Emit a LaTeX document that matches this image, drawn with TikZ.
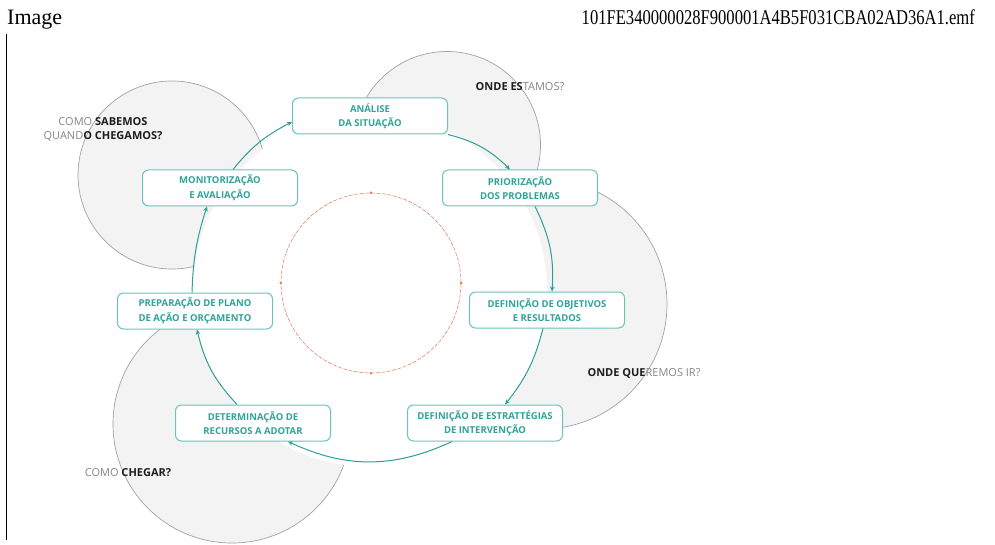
\documentclass[tikz,border=0pt]{standalone}
\usepackage{fontspec}
\setmainfont{Liberation Serif}
\newfontfamily\diagfont{Open Sans}
\usepackage{tikz}
\usetikzlibrary{arrows.meta}
\definecolor{tealtxt}{HTML}{2FA39A}
\definecolor{tealline}{HTML}{6CC3BB}
\definecolor{tealarrow}{HTML}{2E9F97}
\definecolor{ringorange}{HTML}{E07A55}
\definecolor{bubblefill}{HTML}{F3F3F3}
\definecolor{bubbleline}{HTML}{A2A2A2}
\definecolor{lighttxt}{HTML}{858585}
\definecolor{darktxt}{HTML}{1E1E1E}

\begin{document}
\begin{tikzpicture}[x=1pt,y=-1pt,
    stage/.style={draw=tealline, line width=1pt, fill=white, rounded corners=6pt,
      minimum width=155pt, minimum height=36pt, align=center, text=tealtxt,
      font=\diagfont\bfseries\fontsize{9.5}{14.5}\selectfont, inner sep=2pt},
    flow/.style={draw=tealarrow, line width=1pt, -{Stealth[length=5pt,width=4.5pt]}},
    bubble/.style={fill=bubblefill, draw=bubbleline, line width=0.7pt},
    question/.style={align=center, text=darktxt, font=\diagfont\fontsize{11}{14}\selectfont}]
    \useasboundingbox (0,0) rectangle (995,545);

    % header of the page
    \node[anchor=base west, inner sep=0pt, font=\fontsize{22}{26}\selectfont] (title) at (7,25) {Image};
    \node[anchor=base east, inner sep=0pt, xscale=0.79, font=\fontsize{21}{24}\selectfont] (file) at (975,25) {101FE340000028F900001A4B5F031CBA02AD36A1.emf};
    \draw[line width=0.8pt] (6,34) -- (6,540);

    % grey bubbles, cut by the white centre
    \draw[bubble] (172,175) circle (94);
    \draw[bubble] (447,145) circle (93.5);
    \draw[bubble] (542,304) circle (125);
    \draw[bubble] (232,424) circle (119);
    \fill[white] (370,290) circle (177);

    % inner ring
    \node[circle, draw=ringorange, dashed, dash pattern=on 4pt off 1.5pt, line width=0.5pt,
      minimum size=180pt, inner sep=0pt] (ring) at (371,283) {};
    \foreach \a in {north,south,east,west}
        \fill[ringorange] (ring.\a) circle (1.4);

    % stages of the cycle
    \node[stage] (analise) at (370,116) {ANÁLISE\\DA SITUAÇÃO};
    \node[stage] (prior) at (520,188) {PRIORIZAÇÃO\\DOS PROBLEMAS};
    \node[stage] (objet) at (547,310) {DEFINIÇÃO DE OBJETIVOS\\E RESULTADOS};
    \node[stage] (estrat) at (485,423) {DEFINIÇÃO DE ESTRATTÉGIAS\\DE INTERVENÇÃO};
    \node[stage] (recur) at (253,423) {DETERMINAÇÃO DE\\RECURSOS A ADOTAR};
    \node[stage] (plano) at (195,311) {PREPARAÇÃO DE PLANO\\DE AÇÃO E ORÇAMENTO};
    \node[stage] (monit) at (220,188) {MONITORIZAÇÃO\\E AVALIAÇÃO};

    \draw[flow] (analise.south east) to[bend left=15] ([xshift=-10pt]prior.north);
    \draw[flow] ([xshift=15pt]prior.south) to[bend left=15] ([xshift=5pt]objet.north);
    \draw[flow] ([xshift=-4pt]objet.south) to[bend left=12] ([xshift=20pt]estrat.north);
    \draw[flow] ([xshift=-33pt]estrat.south) to[bend left=25] ([xshift=35pt]recur.south);
    \draw[flow] ([xshift=-16pt]recur.north) to[bend left=15] ([xshift=2pt]plano.south);
    \draw[flow] ([xshift=-3pt]plano.north) to[bend left=8] ([xshift=-13pt]monit.south);
    \draw[flow] ([xshift=13pt]monit.north) to[bend left=12] ([yshift=-6pt]analise.west);

    % questions
    \node[question] (quando) at (103,129) {{\color{lighttxt}COMO }\textbf{SABEMOS}\\{\color{lighttxt}QUAND}\textbf{O CHEGAMOS?}};
    \node[question] (onde) at (520,87) {\textbf{ONDE ES}{\color{lighttxt}TAMOS?}};
    \node[question] (ir) at (644,373) {\textbf{ONDE QUE}{\color{lighttxt}REMOS IR?}};
    \node[question] (chegar) at (128,473) {{\color{lighttxt}COMO }\textbf{CHEGAR?}};
\end{tikzpicture}
\end{document}
